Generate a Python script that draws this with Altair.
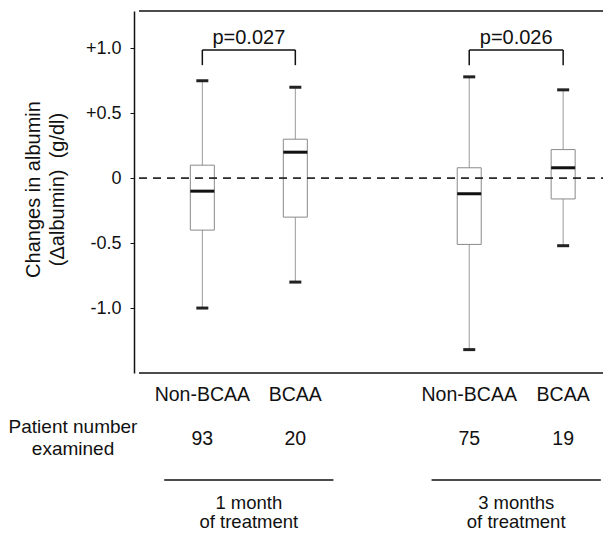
import altair as alt
import pandas as pd

# ---- data ----
groups = ["Non-BCAA", "BCAA", "Non-BCAA", "BCAA"]
periods = ["1 month", "1 month", "3 months", "3 months"]
x_pos = [1.0, 2.0, 3.87, 4.88]
n_patients = ["93", "20", "75", "19"]
whisker_low = [-1.00, -0.80, -1.32, -0.52]
q1 = [-0.40, -0.30, -0.51, -0.16]
median = [-0.10, 0.20, -0.12, 0.08]
q3 = [0.10, 0.30, 0.08, 0.22]
whisker_high = [0.75, 0.70, 0.78, 0.68]

p_labels = ["p=0.027", "p=0.026"]
period_line1 = ["1 month", "3 months"]
period_line2 = ["of treatment", "of treatment"]

y_ticks = [-1.0, -0.5, 0.0, 0.5, 1.0]

FONT = "Liberation Sans"
W, H = 474, 362
XDOM = [0.319, 0.319 + W / 95.0]
YDOM = [-1.5, 1.287]

boxes = pd.DataFrame({
    "group": groups, "period": periods, "x": x_pos, "n": n_patients,
    "lo": whisker_low, "q1": q1, "med": median, "q3": q3, "hi": whisker_high,
})

pairs = pd.DataFrame({
    "label": p_labels,
    "xa": [x_pos[0], x_pos[2]],
    "xb": [x_pos[1], x_pos[3]],
    "xm": [(x_pos[0] + x_pos[1]) / 2, (x_pos[2] + x_pos[3]) / 2],
    "top": [0.987, 0.987],
    "leg": [0.87, 0.87],
    "ty": [1.03, 1.03],
    "l1": period_line1,
    "l2": period_line2,
})
pairs["ua"] = pairs["xm"] - 0.91
pairs["ub"] = pairs["xm"] + 0.91

frame = pd.DataFrame({"v": [YDOM[0], YDOM[1]], "z": [0.0, 0.0],
                      "xl": [XDOM[0], XDOM[0]], "xr": [XDOM[1], XDOM[1]]})
side = pd.DataFrame({"t1": ["Patient number"], "t2": ["examined"]})

xs = alt.Scale(domain=XDOM, nice=False, zero=False)
ys = alt.Scale(domain=YDOM, nice=False, zero=False)

YAX = alt.Axis(
    values=y_ticks,
    labelExpr="datum.value > 0 ? '+' + format(datum.value, '.1f') : (datum.value == 0 ? '0' : '-' + format(-datum.value, '.1f'))",
    labelFont=FONT, labelFontSize=18, labelColor="#111",
    tickSize=4, tickColor="#111", tickWidth=1,
    labelPadding=9,
    domainColor="#111", domainWidth=1.5,
    grid=False,
    title=["Changes in albumin", "(\u0394albumin)\u00a0\u00a0(g/dl)"],
    titleFont=FONT, titleFontSize=20, titleFontWeight="normal", titleColor="#111",
    titleAlign="center", titleBaseline="top",
    titleX=-111, titleY=178, titleLineHeight=24,
)


def XF(f):
    return alt.X(f, scale=xs, axis=None)


def YF(f):
    return alt.Y(f, scale=ys, axis=YAX)


base = alt.Chart(boxes)

whisk = base.mark_rule(color="#9a9a9a", strokeWidth=1).encode(
    x=XF("x:Q"), y=YF("lo:Q"), y2="hi:Q",
)
box = base.mark_bar(size=24, fill="white", stroke="#8a8a8a", strokeWidth=1, opacity=1).encode(
    x=XF("x:Q"), y=YF("q1:Q"), y2="q3:Q"
)
med = base.mark_tick(orient="horizontal", size=24, thickness=3, color="#111", opacity=1).encode(
    x=XF("x:Q"), y=YF("med:Q")
)
cap_hi = base.mark_tick(orient="horizontal", size=12, thickness=3, color="#222", opacity=1).encode(
    x=XF("x:Q"), y=YF("hi:Q")
)
cap_lo = base.mark_tick(orient="horizontal", size=12, thickness=3, color="#222", opacity=1).encode(
    x=XF("x:Q"), y=YF("lo:Q")
)

fb = alt.Chart(frame)
zero = fb.mark_rule(color="#222", strokeDash=[8, 6], strokeWidth=1.2).encode(
    x=XF("xl:Q"), x2="xr:Q", y=YF("z:Q")
)
frame_lines = fb.mark_rule(color="#111", strokeWidth=1.5).encode(
    x=XF("xl:Q"), x2="xr:Q", y=YF("v:Q")
)

pb = alt.Chart(pairs)
br_h = pb.mark_rule(color="#111", strokeWidth=1.5).encode(
    x=XF("xa:Q"), x2="xb:Q", y=YF("top:Q")
)
br_l = pb.mark_rule(color="#111", strokeWidth=1.5).encode(
    x=XF("xa:Q"), y=YF("leg:Q"), y2="top:Q"
)
br_r = pb.mark_rule(color="#111", strokeWidth=1.5).encode(
    x=XF("xb:Q"), y=YF("leg:Q"), y2="top:Q"
)
p_txt = pb.mark_text(font=FONT, fontSize=20, color="#111", align="center", baseline="alphabetic").encode(
    x=XF("xm:Q"), y=YF("ty:Q"), text="label:N"
)

# below-plot annotations
grp_txt = base.mark_text(font=FONT, fontSize=19.5, color="#111", align="center", baseline="alphabetic").encode(
    x=XF("x:Q"), y=alt.value(390), text="group:N"
)
n_txt = base.mark_text(font=FONT, fontSize=19.5, color="#111", align="center", baseline="alphabetic").encode(
    x=XF("x:Q"), y=alt.value(434), text="n:N"
)
sb = alt.Chart(side)
pn1 = sb.mark_text(font=FONT, fontSize=19, color="#111", align="center", baseline="alphabetic").encode(
    x=alt.value(-61), y=alt.value(422), text="t1:N")
pn2 = sb.mark_text(font=FONT, fontSize=19, color="#111", align="center", baseline="alphabetic").encode(
    x=alt.value(-61), y=alt.value(444), text="t2:N")

under = pb.mark_rule(color="#111", strokeWidth=1.5).encode(
    x=XF("ua:Q"), x2="ub:Q", y=alt.value(469)
)
per1 = pb.mark_text(font=FONT, fontSize=18.5, color="#111", align="center", baseline="alphabetic").encode(
    x=XF("xm:Q"), y=alt.value(498), text="l1:N"
)
per2 = pb.mark_text(font=FONT, fontSize=18.5, color="#111", align="center", baseline="alphabetic").encode(
    x=XF("xm:Q"), y=alt.value(517), text="l2:N"
)

chart = alt.layer(
    whisk, box, med, cap_hi, cap_lo, zero, frame_lines,
    br_h, br_l, br_r, p_txt, grp_txt, n_txt, pn1, pn2, under, per1, per2,
).properties(
    width=W, height=H,
    background="white",
    autosize=alt.AutoSizeParams(type="none"),
    padding={"left": 126, "top": 3, "right": 0, "bottom": 158},
).configure_view(strokeWidth=0)

chart.save("out.html", embed_options={"renderer": "svg", "actions": False})
